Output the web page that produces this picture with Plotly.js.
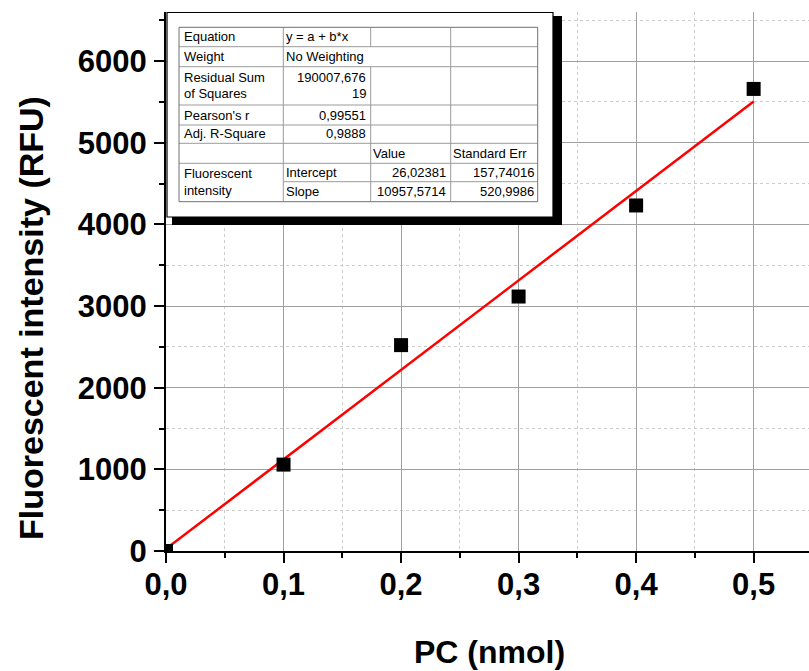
<!DOCTYPE html>
<html>
<head>
<meta charset="utf-8">
<script src="https://cdn.plot.ly/plotly-3.0.1.min.js"></script>
<style>
  html, body { margin: 0; padding: 0; background: #ffffff; }
  #chart { width: 809px; height: 671px; }
</style>
</head>
<body>
<div id="chart"></div>
<script>
// ---- data ----
const pcNmol = [0.0, 0.1, 0.2, 0.3, 0.4, 0.5];
const fluorescence = [0, 1058, 2521, 3116, 4231, 5658];
const fitX = [0.0, 0.5];
const fitY = [26.02, 5504.81];

const xTickVals = [0.0, 0.1, 0.2, 0.3, 0.4, 0.5];
const xTickText = ['0,0', '0,1', '0,2', '0,3', '0,4', '0,5'];
const yTickVals = [0, 1000, 2000, 3000, 4000, 5000, 6000];
const yTickText = ['0', '1000', '2000', '3000', '4000', '5000', '6000'];

const xTitle = 'PC (nmol)';
const yTitle = 'Fluorescent intensity (RFU)';

// fit statistics table (text cells)
const tableLeftCol = ['Equation', 'Weight', 'Residual Sum', 'of Squares', "Pearson's r", 'Adj. R-Square', 'Fluorescent', 'intensity'];
const tableEquation = 'y = a + b*x';
const tableWeight = 'No Weighting';
const tableStats = ['190007,676', '19', '0,99551', '0,9888'];
const tableHeader = ['Value', 'Standard Err'];
const tableParams = ['Intercept', 'Slope'];
const tableValues = ['26,02381', '10957,5714'];
const tableErrors = ['157,74016', '520,9986'];

// ---- layout geometry ----
const W = 809, H = 671;
const M = {l: 166, r: 0, t: 12, b: 120};
const PW = W - M.l - M.r, PH = H - M.t - M.b;
const px = x => (x - M.l) / PW;
const py = y => 1 - (y - M.t) / PH;

const FONT = 'Liberation Sans, Arial, Helvetica, sans-serif';

const shapes = [];
function rect(x0, y0, x1, y1, fill, lineColor, lw) {
  shapes.push({type: 'rect', xref: 'paper', yref: 'paper', layer: 'above',
    x0: px(x0), x1: px(x1), y0: py(y1), y1: py(y0),
    fillcolor: fill, line: {color: lineColor, width: lw}});
}
function hline(x0, x1, y, c) {
  shapes.push({type: 'line', xref: 'paper', yref: 'paper', layer: 'above',
    x0: px(x0), x1: px(x1), y0: py(y), y1: py(y), line: {color: c, width: 1}});
}
function vline(x, y0, y1, c) {
  shapes.push({type: 'line', xref: 'paper', yref: 'paper', layer: 'above',
    x0: px(x), x1: px(x), y0: py(y0), y1: py(y1), line: {color: c, width: 1}});
}

// shadow + box
rect(172, 16, 562, 225, '#000000', '#000000', 0);
rect(167, 12.5, 553, 217, '#ffffff', '#000000', 1.2);

// table grid
const TL = 179, TR = 537.7, TT = 27.3, TB = 201.7;
const C1 = 283.3, C2 = 370.7, C3 = 450.7;
const rowsY = [46.7, 66.7, 105, 125, 143.3, 163.3];
const gridC = '#9a9a9a';
rowsY.forEach(y => hline(TL, TR, y, gridC));
hline(C1, TR, 181.7, gridC);
vline(C1, TT, TB, gridC);
vline(C2, TT, 46.7, gridC);
vline(C2, 66.7, TB, gridC);
vline(C3, TT, TB, gridC);
rect(TL, TT, TR, TB, 'rgba(0,0,0,0)', '#707070', 1);

const annotations = [];
function txt(s, x, y, anchor) {
  annotations.push({text: s, xref: 'paper', yref: 'paper', x: px(x), y: py(y),
    xanchor: anchor, yanchor: 'middle', showarrow: false, borderpad: 0, borderwidth: 0,
    font: {family: FONT, size: 13, color: '#000000'}});
}
const leftYs = [36.7, 56.7, 77.7, 93.3, 115, 133.3, 173, 190];
tableLeftCol.forEach((s, i) => txt(s, 184, leftYs[i], 'left'));
txt(tableEquation, 285.5, 36.7, 'left');
txt(tableWeight, 285.5, 56.7, 'left');
const statYs = [77.7, 93.3, 115, 133.3];
tableStats.forEach((s, i) => txt(s, 366, statYs[i], 'right'));
txt(tableHeader[0], 373, 153.3, 'left');
txt(tableHeader[1], 452.5, 153.3, 'left');
const paramYs = [172.5, 191.5];
tableParams.forEach((s, i) => txt(s, 285.5, paramYs[i], 'left'));
tableValues.forEach((s, i) => txt(s, 445.5, paramYs[i], 'right'));
tableErrors.forEach((s, i) => txt(s, 534, paramYs[i], 'right'));

// axis titles
annotations.push({text: '<b>' + yTitle + '</b>', xref: 'paper', yref: 'paper',
  x: px(31), y: py(318), xanchor: 'center', yanchor: 'middle', textangle: -90,
  showarrow: false, font: {family: FONT, size: 34, color: '#000000'}});
annotations.push({text: '<b>' + xTitle + '</b>', xref: 'paper', yref: 'paper',
  x: px(489), y: py(652), xanchor: 'center', yanchor: 'middle',
  showarrow: false, font: {family: FONT, size: 32, color: '#000000'}});

const traces = [
  {x: fitX, y: fitY, type: 'scatter', mode: 'lines',
   line: {color: '#ff0000', width: 2.5}, hoverinfo: 'skip', showlegend: false},
  {x: pcNmol, y: fluorescence, type: 'scatter', mode: 'markers',
   marker: {symbol: 'square', size: 14, color: '#000000'}, showlegend: false}
];

const axisCommon = {
  showline: true, linecolor: '#000000', linewidth: 2, mirror: false,
  ticks: 'outside', ticklen: 10, tickwidth: 2, tickcolor: '#000000',
  showgrid: true, gridcolor: '#a0a0a0', gridwidth: 1, zeroline: false,
  tickfont: {family: FONT, size: 31, color: '#000000', weight: 'bold'},
  tickmode: 'array'
};

const layout = {
  width: W, height: H,
  margin: M,
  paper_bgcolor: '#ffffff', plot_bgcolor: '#ffffff',
  showlegend: false,
  xaxis: Object.assign({}, axisCommon, {
    range: [0, 0.5471], tickvals: xTickVals, ticktext: xTickText,
    ticklabelstandoff: -5,
    minor: {tickmode: 'linear', tick0: 0, dtick: 0.05, ticks: 'outside', ticklen: 5,
            tickwidth: 2, tickcolor: '#000000', showgrid: true, gridcolor: '#cccccc',
            gridwidth: 1, griddash: '3px,3px'}
  }),
  yaxis: Object.assign({}, axisCommon, {
    range: [0, 6600], tickvals: yTickVals, ticktext: yTickText,
    ticklabelstandoff: 1,
    minor: {tickmode: 'linear', tick0: 0, dtick: 500, ticks: 'outside', ticklen: 5,
            tickwidth: 2, tickcolor: '#000000', showgrid: true, gridcolor: '#cccccc',
            gridwidth: 1, griddash: '3px,3px'}
  }),
  shapes: shapes,
  annotations: annotations
};

Plotly.newPlot('chart', traces, layout, {displayModeBar: false, staticPlot: true});
</script>
</body>
</html>
